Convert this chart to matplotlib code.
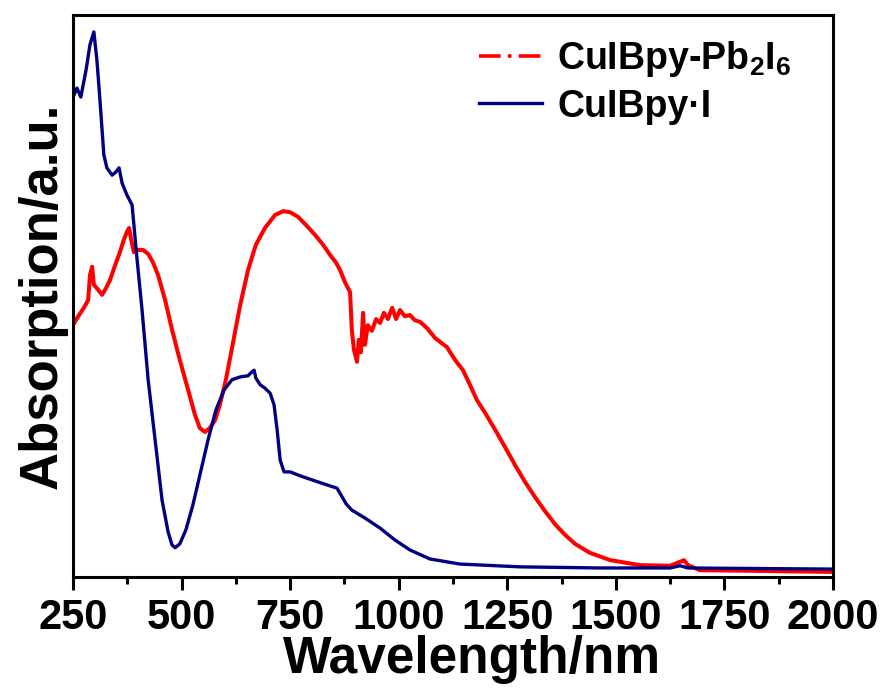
import matplotlib.pyplot as plt
from matplotlib.ticker import MultipleLocator
from matplotlib.lines import Line2D

plt.rcParams['font.family'] = ['Liberation Sans', 'DejaVu Sans']
plt.rcParams['mathtext.fontset'] = 'custom'
plt.rcParams['mathtext.rm'] = 'Liberation Sans:bold'
plt.rcParams['mathtext.default'] = 'regular'

# CuIBpy-Pb2I6 (red)
red_nm = [250, 262, 275, 285, 289, 294, 298, 308, 317, 326, 335, 347, 358, 367, 374, 379,
          384, 390, 400, 411, 423, 434, 446, 462, 478, 496, 515, 531, 542, 554, 565, 577,
          588, 602, 616, 635, 653, 671, 692, 715, 734, 750, 768, 787, 807, 826, 842, 856,
          865, 876, 888, 892, 897, 904, 908, 913, 918, 922, 929, 938, 948, 957, 966, 975,
          985, 994, 1003, 1014, 1026, 1037, 1049, 1065, 1084, 1111, 1130, 1148, 1164, 1180,
          1199, 1222, 1245, 1268, 1291, 1314, 1337, 1360, 1383, 1406, 1440, 1487, 1556, 1625,
          1648, 1657, 1666, 1694, 1809, 2000]
red_abs = [0.448, 0.464, 0.479, 0.493, 0.537, 0.552, 0.520, 0.511, 0.502, 0.514, 0.528, 0.555,
           0.578, 0.600, 0.614, 0.621, 0.600, 0.578, 0.582, 0.582, 0.575, 0.560, 0.537, 0.493,
           0.440, 0.386, 0.333, 0.288, 0.265, 0.258, 0.265, 0.279, 0.306, 0.351, 0.407, 0.484,
           0.546, 0.591, 0.621, 0.644, 0.651, 0.649, 0.641, 0.626, 0.609, 0.591, 0.573, 0.559,
           0.546, 0.525, 0.507, 0.440, 0.404, 0.383, 0.422, 0.400, 0.470, 0.413, 0.448, 0.438,
           0.459, 0.452, 0.470, 0.459, 0.479, 0.459, 0.475, 0.464, 0.466, 0.457, 0.454, 0.443,
           0.425, 0.409, 0.386, 0.368, 0.342, 0.315, 0.292, 0.262, 0.231, 0.199, 0.169, 0.142,
           0.117, 0.094, 0.075, 0.059, 0.043, 0.030, 0.021, 0.020, 0.027, 0.030, 0.021, 0.012,
           0.011, 0.009]

# CuIBpy·I (blue)
blue_nm = [250, 259, 268, 280, 289, 298, 305, 312, 321, 328, 340, 349, 356, 363, 374, 386,
           397, 409, 423, 439, 455, 469, 478, 485, 496, 510, 526, 542, 561, 579, 598, 616,
           635, 653, 662, 667, 671, 681, 692, 704, 713, 720, 727, 736, 750, 773, 807, 842,
           858, 867, 879, 892, 922, 957, 991, 1026, 1072, 1141, 1279, 1464, 1625, 1648, 1666,
           2000]
blue_abs = [0.854, 0.870, 0.854, 0.902, 0.947, 0.970, 0.920, 0.849, 0.751, 0.728, 0.715, 0.721,
            0.728, 0.701, 0.680, 0.662, 0.569, 0.475, 0.351, 0.244, 0.137, 0.080, 0.057, 0.052,
            0.059, 0.084, 0.128, 0.181, 0.244, 0.297, 0.333, 0.351, 0.356, 0.358, 0.365, 0.368,
            0.354, 0.342, 0.336, 0.327, 0.306, 0.262, 0.208, 0.187, 0.187, 0.180, 0.171, 0.162,
            0.158, 0.146, 0.130, 0.119, 0.105, 0.087, 0.066, 0.048, 0.032, 0.023, 0.018, 0.016,
            0.016, 0.020, 0.016, 0.014]

labels = [r'CuIBpy-Pb$\mathregular{_2}$I$\mathregular{_6}$', 'CuIBpy·I']

fig = plt.figure(figsize=(8.85, 6.89), dpi=100)
ax = fig.add_axes([0.0825, 0.1626, 0.8587, 0.8156])

ax.plot(red_nm, red_abs, color='#ff0000', lw=2.9)
ax.plot(blue_nm, blue_abs, color='#000080', lw=2.4)

ax.set_xlim(250, 2000)
ax.set_ylim(0, 1)
ax.xaxis.set_major_locator(MultipleLocator(250))
ax.xaxis.set_minor_locator(MultipleLocator(125))
ax.set_yticks([])
ax.tick_params(axis='x', which='major', length=9, width=2.2, direction='out',
               labelsize=30, pad=6)
ax.tick_params(axis='x', which='minor', length=5, width=2.2, direction='out')
for lab in ax.get_xticklabels():
    lab.set_fontweight('bold')
for s in ax.spines.values():
    s.set_linewidth(2.2)

ax.set_xlabel('Wavelength/nm', fontsize=37, fontweight='bold')
ax.set_ylabel('Absorption/a.u.', fontsize=38, fontweight='bold', labelpad=4)
ax.xaxis.set_label_coords(0.525, -0.103)

# legend: red entry drawn dash-dot as in the original
handles = [Line2D([], [], color='#ff0000', lw=2.6, ls=(0, (6, 2, 1, 2))),
           Line2D([], [], color='#000080', lw=2.4)]
ax.legend(handles, labels, loc='upper right', frameon=False,
          prop={'size': 27, 'weight': 'bold'},
          handlelength=1.7, handletextpad=0.4, labelspacing=0.25,
          bbox_to_anchor=(0.99, 1.017))

fig.savefig('out.png', dpi=100)
